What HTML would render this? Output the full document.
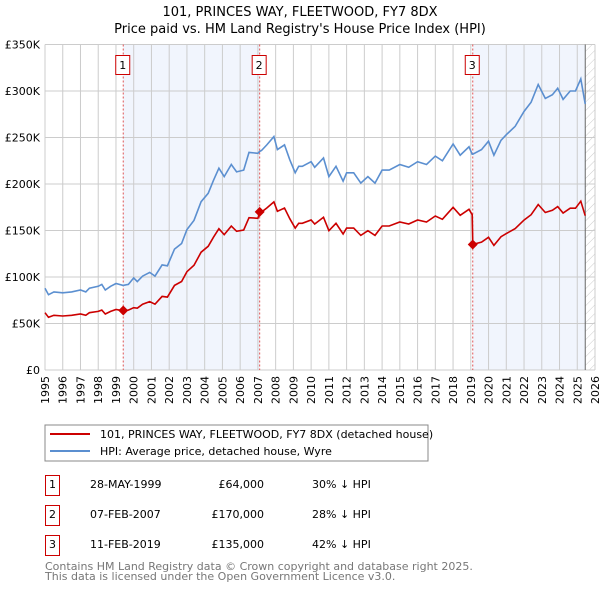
<!DOCTYPE html>
<html><head><meta charset="utf-8"><style>
body{margin:0;background:#fff;font-family:"DejaVu Sans","Liberation Sans",sans-serif;}
svg text{font-family:"DejaVu Sans","Liberation Sans",sans-serif;}
</style></head><body>
<svg id="chart" width="600" height="590" xmlns="http://www.w3.org/2000/svg">
<defs><pattern id="hatch" width="6" height="6" patternUnits="userSpaceOnUse" patternTransform="rotate(45)"><line x1="0" y1="0" x2="0" y2="6" stroke="#ccc" stroke-width="1"/></pattern></defs>
<text x="300" y="16" text-anchor="middle" font-size="13">101, PRINCES WAY, FLEETWOOD, FY7 8DX</text>
<text x="300" y="33" text-anchor="middle" font-size="13">Price paid vs. HM Land Registry's House Price Index (HPI)</text>
<g id="plot"></g>
<rect x="45" y="425" width="383" height="36" fill="#fff" stroke="#888"/>
<line x1="50" y1="434" x2="90" y2="434" stroke="#cc0000" stroke-width="2"/>
<text x="100" y="438" font-size="11">101, PRINCES WAY, FLEETWOOD, FY7 8DX (detached house)</text>
<line x1="50" y1="451" x2="90" y2="451" stroke="#5b8fd0" stroke-width="2"/>
<text x="100" y="455" font-size="11">HPI: Average price, detached house, Wyre</text>
<g font-size="11">
<rect x="45.5" y="475.5" width="14" height="20" fill="none" stroke="#cc0000"/><text x="52.5" y="488" text-anchor="middle">1</text>
<text x="90" y="488">28-MAY-1999</text><text x="264" y="488" text-anchor="end">£64,000</text><text x="312" y="488">30% ↓ HPI</text>
<rect x="45.5" y="505.5" width="14" height="20" fill="none" stroke="#cc0000"/><text x="52.5" y="518" text-anchor="middle">2</text>
<text x="90" y="518">07-FEB-2007</text><text x="264" y="518" text-anchor="end">£170,000</text><text x="312" y="518">28% ↓ HPI</text>
<rect x="45.5" y="535.5" width="14" height="20" fill="none" stroke="#cc0000"/><text x="52.5" y="548" text-anchor="middle">3</text>
<text x="90" y="548">11-FEB-2019</text><text x="264" y="548" text-anchor="end">£135,000</text><text x="312" y="548">42% ↓ HPI</text>
</g>
<text x="45" y="570" font-size="11" fill="#777">Contains HM Land Registry data © Crown copyright and database right 2025.</text>
<text x="45" y="580" font-size="11" fill="#777">This data is licensed under the Open Government Licence v3.0.</text>
</svg>
<script>
const years=[1995.0,1995.2,1995.5,1996.0,1996.5,1997.0,1997.3,1997.5,1998.0,1998.2,1998.4,1998.7,1999.0,1999.4,1999.7,2000.0,2000.2,2000.5,2000.9,2001.2,2001.6,2001.9,2002.3,2002.7,2003.0,2003.4,2003.8,2004.2,2004.5,2004.8,2005.1,2005.5,2005.8,2006.2,2006.5,2007.0,2007.1,2007.2,2007.5,2007.9,2008.1,2008.5,2008.8,2009.1,2009.3,2009.5,2010.0,2010.2,2010.7,2011.0,2011.4,2011.8,2012.0,2012.4,2012.8,2013.2,2013.6,2014.0,2014.4,2015.0,2015.5,2016.0,2016.5,2017.0,2017.4,2017.7,2018.0,2018.4,2018.9,2019.08,2019.11,2019.6,2020.0,2020.3,2020.7,2021.0,2021.5,2022.0,2022.4,2022.8,2023.2,2023.6,2023.9,2024.2,2024.6,2024.9,2025.2,2025.45];
const hpiValues=[88,81,84,83,84,86,84,88,90,92,86,90,93,91,92,99,95,101,105,101,113,112,130,136,151,161,181,190,204,217,208,221,213,215,234,233,235,236,242,251,237,242,226,212,219,219,224,218,228,208,219,203,212,212,201,208,201,215,215,221,218,224,221,230,225,234,243,231,240,232,232,237,246,231,247,253,262,278,288,307,292,296,303,291,300,300,313,286];
const priceValues=[61.6,56.7,58.8,58.1,58.8,60.2,58.8,61.6,63,64.4,60.2,63,65.1,63.7,64.4,67,66.5,70.7,73.5,70.7,79.1,78.4,91,95.2,105.7,112.7,126.7,133,142.8,151.9,145.6,154.7,149.1,150.5,163.8,163.1,169,169.9,174.2,180.7,170.6,174.2,162.7,152.6,157.7,157.7,161.3,157,164.2,149.8,157.7,146.2,152.6,152.6,144.7,149.8,144.7,154.8,154.8,159.1,157,161.3,159.1,165.6,162,168.5,175,166.3,172.8,167,135,137.5,142.7,134,143.3,146.7,152,161.2,167,178,169.4,171.7,175.7,168.8,174,174,181.5,165.9];
const saleLabels=["1","2","3"];
const saleYears=[1999.41,2007.1,2019.11];
const salePrices=[64,170,135];
const yTicks=[0,50,100,150,200,250,300,350];
const yTickLabels=["£0","£50K","£100K","£150K","£200K","£250K","£300K","£350K"];
const xTicks=[1995,1996,1997,1998,1999,2000,2001,2002,2003,2004,2005,2006,2007,2008,2009,2010,2011,2012,2013,2014,2015,2016,2017,2018,2019,2020,2021,2022,2023,2024,2025,2026];

const L=45,R=595,T=44.5,B=370;
const xs=y=>L+(y-1995)*(R-L)/31;
const ys=v=>B-v*(B-T)/350;
const NS="http://www.w3.org/2000/svg";
const g=document.getElementById('plot');
function mk(tag,attrs,parent){const e=document.createElementNS(NS,tag);for(const k in attrs)e.setAttribute(k,attrs[k]);(parent||g).appendChild(e);return e;}

let e;
e=mk('rect',{x:xs(saleYears[0]),y:T,width:xs(saleYears[1])-xs(saleYears[0]),height:B-T,fill:'#eef3fc',opacity:0.8});


e=mk('rect',{x:xs(saleYears[2]),y:T,width:xs(2025.45)-xs(saleYears[2]),height:B-T,fill:'#eef3fc',opacity:0.8});


e=mk('rect',{x:xs(2025.45),y:T,width:R-xs(2025.45),height:B-T,fill:'url(#hatch)'});



xTicks.forEach((t,i)=>{
  e=mk('line',{x1:xs(t),x2:xs(t),y1:T,y2:B,stroke:'#ccc','stroke-width':1});
  
  
  const x=xs(t)+4;
  e=mk('text',{x:x,y:376,'font-size':11,'text-anchor':'end',transform:`rotate(-90 ${x} 376)`});
  e.textContent=t;
  
  
});
yTicks.forEach((t,i)=>{
  e=mk('line',{x1:L,x2:R,y1:ys(t),y2:ys(t),stroke:'#ccc','stroke-width':1});
  
  
  e=mk('text',{x:40,y:ys(t)+4,'font-size':11,'text-anchor':'end'});
  e.textContent=yTickLabels[i];
  
  
});
e=mk('line',{x1:xs(2025.45),x2:xs(2025.45),y1:T,y2:B,stroke:'#666','stroke-width':1});



saleYears.forEach((s,i)=>{
  e=mk('line',{x1:xs(s),x2:xs(s),y1:T,y2:B,stroke:'#e05555','stroke-width':1,'stroke-dasharray':'2,2'});
  
  
});

function pathFor(vals){return vals.map((v,i)=>(i?'L':'M')+xs(years[i]).toFixed(1)+','+ys(v).toFixed(1)).join('');}
e=mk('path',{d:pathFor(hpiValues),fill:'none',stroke:'#5b8fd0','stroke-width':1.6});


e=mk('path',{d:pathFor(priceValues),fill:'none',stroke:'#cc0000','stroke-width':1.6});



saleYears.forEach((s,i)=>{
  const cx=xs(s),cy=ys(salePrices[i]);
  e=mk('path',{d:`M${cx},${cy-5}L${cx+5},${cy}L${cx},${cy+5}L${cx-5},${cy}Z`,fill:'#cc0000'});
  
  
  e=mk('rect',{x:cx-7.5,y:55.5,width:14,height:19,fill:'#fff',stroke:'#cc0000'});
  
  
  e=mk('text',{x:cx-0.5,y:69,'font-size':11,'text-anchor':'middle'});
  e.textContent=saleLabels[i];
  
  
});
</script>
</body></html>
